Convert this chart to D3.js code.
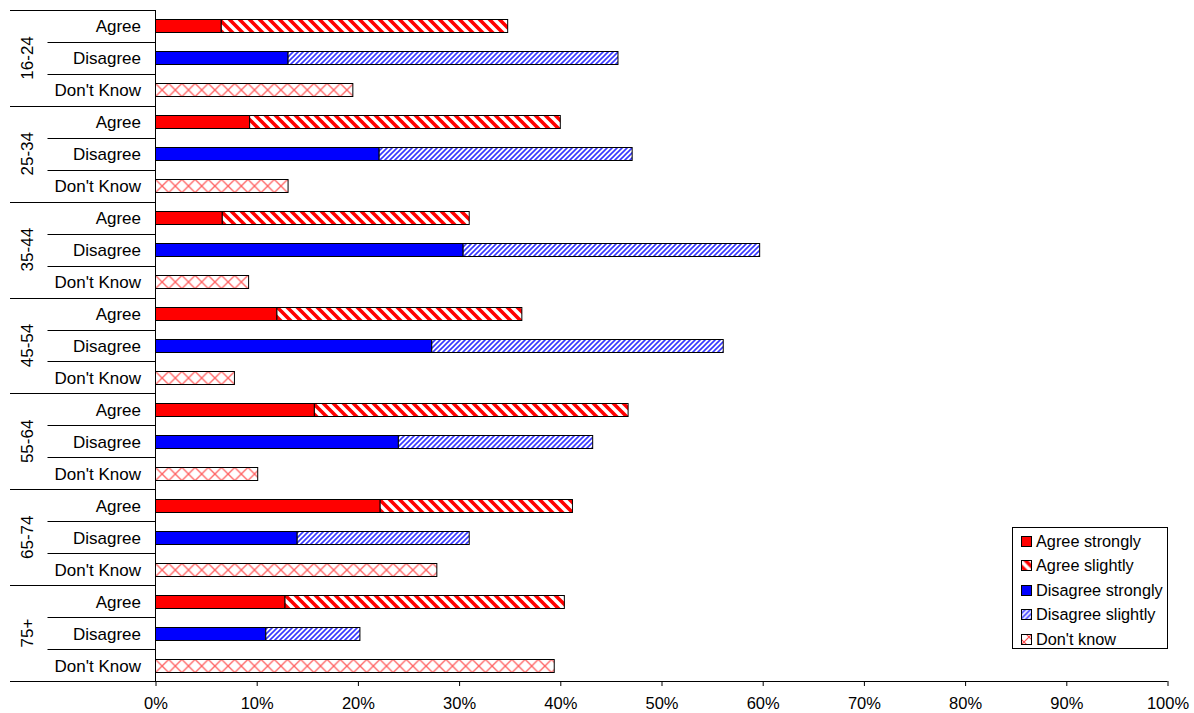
<!DOCTYPE html>
<html>
<head>
<meta charset="utf-8">
<script src="https://cdn.jsdelivr.net/npm/d3@7/dist/d3.min.js"></script>
<style>
  html, body { margin: 0; padding: 0; background: #fff; }
  svg { display: block; font-family: "Liberation Sans", Arial, sans-serif; }
</style>
</head>
<body>
<svg id="chart" width="1194" height="713"></svg>
<script>
// Age groups and the three response rows shown for each
const ageGroups = ["16-24", "25-34", "35-44", "45-54", "55-64", "65-74", "75+"];
const responses = ["Agree", "Disagree", "Don't Know"];

// Shares of respondents (percent)
const agreeStrongly    = [6.5, 9.3, 6.6, 12.0, 15.7, 22.2, 12.8];
const agreeSlightly    = [28.3, 30.7, 24.4, 24.2, 31.0, 19.0, 27.6];
const disagreeStrongly = [13.1, 22.1, 30.4, 27.3, 24.0, 14.0, 10.9];
const disagreeSlightly = [32.6, 25.0, 29.3, 28.8, 19.2, 17.0, 9.3];
const dontKnow         = [19.5, 13.1, 9.2, 7.8, 10.1, 27.8, 39.4];

const xTicks = [0, 10, 20, 30, 40, 50, 60, 70, 80, 90, 100];
const legendLabels = ["Agree strongly", "Agree slightly", "Disagree strongly", "Disagree slightly", "Don't know"];
const legendFills = ["#ff0000", "url(#pAgreeSlight)", "#0000ff", "url(#pDisagreeSlight)", "url(#pDontKnowLegend)"];

const svg = d3.select("#chart");
const defs = svg.append("defs");

const plotLeft = 155.5, plotRight = 1167.5, plotTop = 10, plotBottom = 681;
const x = d3.scaleLinear().domain([0, 100]).range([plotLeft, plotRight]);

const rowKeys = [];
ageGroups.forEach((g, gi) => responses.forEach((r, ri) => rowKeys.push(gi + "|" + ri)));
const y = d3.scaleBand().domain(rowKeys).range([plotTop, plotBottom]).padding(0);
const rowH = y.bandwidth();
const barH = 13;

// Wide red diagonal stripes
const sA = 10;
const pA = defs.append("pattern").attr("id", "pAgreeSlight")
  .attr("patternUnits", "userSpaceOnUse").attr("width", sA).attr("height", sA);
pA.append("rect").attr("width", sA).attr("height", sA).attr("fill", "#fff");
pA.append("path").attr("d", `M-2,-2 L${sA + 2},${sA + 2} M${-sA - 2},-2 L2,${sA + 2} M${sA - 2},-2 L${2 * sA + 2},${sA + 2}`)
  .attr("stroke", "#ff0000").attr("stroke-width", 3.6);

// Fine blue diagonal stripes
const sD = 5;
const pD = defs.append("pattern").attr("id", "pDisagreeSlight")
  .attr("patternUnits", "userSpaceOnUse").attr("width", sD).attr("height", sD);
pD.append("rect").attr("width", sD).attr("height", sD).attr("fill", "#fff");
pD.append("path").attr("d", `M-1,${sD + 1} L${sD + 1},-1 M${-sD - 1},${sD + 1} L1,-1 M${sD - 1},${sD + 1} L${2 * sD + 1},-1`)
  .attr("stroke", "#3838ff").attr("stroke-width", 1.6);

// Light red diamond cross-hatch, one per bar row so the crosses line up with the bar
function crossPattern(id, xOff, yOff, w, h) {
  const p = defs.append("pattern").attr("id", id)
    .attr("patternUnits", "userSpaceOnUse")
    .attr("x", xOff).attr("y", yOff).attr("width", w).attr("height", h);
  p.append("rect").attr("width", w).attr("height", h).attr("fill", "#fff");
  p.append("path").attr("d", `M0,0 L${w},${h} M${w},0 L0,${h}`)
    .attr("stroke", "#ff4a4a").attr("stroke-width", 1.2);
}

// Row structure on the left
const axisG = svg.append("g").attr("stroke", "#000").attr("stroke-width", 1);
axisG.append("line").attr("x1", plotLeft).attr("x2", plotLeft).attr("y1", plotTop).attr("y2", plotBottom);
ageGroups.forEach((g, gi) => {
  const y0 = Math.round(y(gi + "|0")) + 0.5;
  axisG.append("line").attr("x1", 10).attr("x2", plotLeft).attr("y1", y0).attr("y2", y0);
  [1, 2].forEach(ri => {
    const yy = Math.round(y(gi + "|" + ri)) + 0.5;
    axisG.append("line").attr("x1", 47.5).attr("x2", plotLeft).attr("y1", yy).attr("y2", yy);
  });
});
axisG.append("line").attr("x1", 10).attr("x2", plotRight).attr("y1", plotBottom + 0.5).attr("y2", plotBottom + 0.5);

// Bottom axis ticks and labels
const xAxis = d3.axisBottom(x).tickValues(xTicks).tickSize(5).tickFormat(d => d + "%");
const xg = svg.append("g").attr("transform", `translate(0,${plotBottom})`).call(xAxis);
xg.select(".domain").remove();
xg.selectAll(".tick line").attr("stroke", "#000");
xg.selectAll(".tick text").attr("font-size", 16.5).attr("font-family", "Liberation Sans, Arial, sans-serif")
  .attr("fill", "#000").attr("dy", 0).attr("y", 28);

// Row labels and group labels
const labels = svg.append("g").attr("font-size", 17).attr("fill", "#000");
ageGroups.forEach((g, gi) => {
  responses.forEach((r, ri) => {
    labels.append("text").attr("x", 141).attr("y", y(gi + "|" + ri) + rowH / 2 + 6.5)
      .attr("text-anchor", "end").text(r);
  });
  const cy = y(gi + "|1") + rowH / 2;
  labels.append("text").attr("transform", `translate(33,${cy}) rotate(-90)`)
    .attr("text-anchor", "middle").text(g);
});

// Bars
const bars = svg.append("g").attr("stroke", "#000").attr("stroke-width", 1);
ageGroups.forEach((g, gi) => {
  const yA = Math.round(y(gi + "|0") + (rowH - barH) / 2) + 0.5;
  const yD = Math.round(y(gi + "|1") + (rowH - barH) / 2) + 0.5;
  const yK = Math.round(y(gi + "|2") + (rowH - barH) / 2) + 0.5;
  const segs = [
    { y: yA, x0: 0, x1: agreeStrongly[gi], fill: "#ff0000" },
    { y: yA, x0: agreeStrongly[gi], x1: agreeStrongly[gi] + agreeSlightly[gi], fill: "url(#pAgreeSlight)" },
    { y: yD, x0: 0, x1: disagreeStrongly[gi], fill: "#0000ff" },
    { y: yD, x0: disagreeStrongly[gi], x1: disagreeStrongly[gi] + disagreeSlightly[gi], fill: "url(#pDisagreeSlight)" }
  ];
  const pid = "pDontKnow" + gi;
  crossPattern(pid, plotLeft, yK, 13.2, barH);
  segs.push({ y: yK, x0: 0, x1: dontKnow[gi], fill: `url(#${pid})` });
  segs.forEach(s => {
    bars.append("rect").attr("x", x(s.x0)).attr("y", s.y)
      .attr("width", x(s.x1) - x(s.x0)).attr("height", barH).attr("fill", s.fill);
  });
});

// Legend
const legX = 1012.5, legY = 527.5;
const lg = svg.append("g").attr("transform", `translate(${legX},${legY})`);
lg.append("rect").attr("width", 155).attr("height", 121).attr("fill", "#fff").attr("stroke", "#000");
legendLabels.forEach((t, i) => {
  const cy = Math.round(13.5 + i * 24.5);
  if (i === 4) crossPattern("pDontKnowLegend", legX + 9, legY + cy - 5, 10, 10);
  lg.append("rect").attr("x", 9).attr("y", cy - 5).attr("width", 10).attr("height", 10)
    .attr("fill", legendFills[i]).attr("stroke", "#000");
  lg.append("text").attr("x", 23.5).attr("y", cy + 5.5).attr("font-size", 16.3).attr("fill", "#000").text(t);
});
</script>
</body>
</html>
